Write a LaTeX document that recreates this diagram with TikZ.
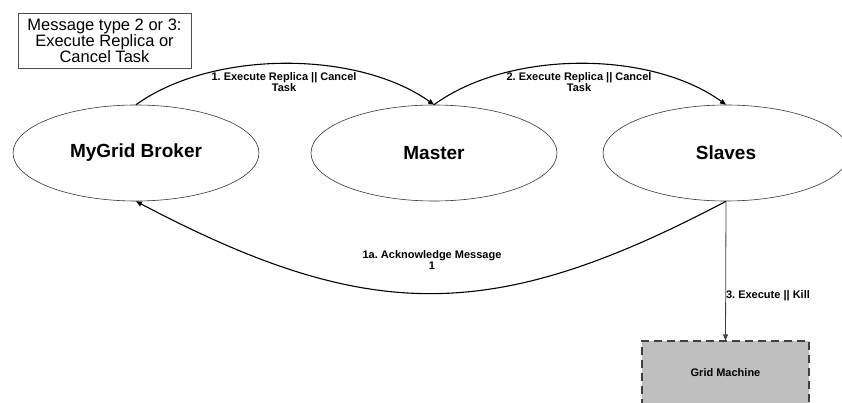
\documentclass[tikz,border=0pt]{standalone}
\usepackage{fontspec}
\setmainfont{Liberation Sans}
\usetikzlibrary{shapes}
\usetikzlibrary {arrows.meta}
\tikzset{oval/.style = {
shape=ellipse, draw=black!80, line width=0.6pt, minimum width=246pt, minimum height=96pt, inner sep=0pt,
font=\fontsize{19}{22}\selectfont\bfseries
}}
\tikzset{maschine/.style = {
rectangle, draw=black!75, fill=gray!50, line width=1.2pt, dash pattern=on 8pt off 5pt,
minimum width=167pt, minimum height=63pt, font=\fontsize{11}{13}\selectfont\bfseries
}}
\tikzset{pfeil/.style = {-{Triangle[length=6pt,width=5pt]}, line width=1.1pt}}
\tikzset{beschriftung/.style = {align=center, inner sep=0pt, text=black, font=\fontsize{11}{11}\selectfont\bfseries}}

\begin{document}
\frenchspacing
\begin{tikzpicture}[x=1pt,y=-1pt]
\useasboundingbox (0,0) rectangle (842,403);

\node[rectangle,draw=black!70,line width=0.8pt,minimum width=173pt,minimum height=55pt,align=center,
  font=\fontsize{16.5}{16}\selectfont] (typ) at (104.5,40.5) {Message type 2 or 3:\\Execute Replica or\\Cancel Task};

\node[oval] (broker) at (136,153) {MyGrid Broker};
\node[oval] (master) at (434,153) {Master};
\node[oval] (slaves) at (726,153) {Slaves};

\node[maschine] (grid) at (725.5,372.5) {Grid Machine};

\draw [pfeil] (broker.north) .. controls (212,50) and (357,50) .. (master.north);
\node[beschriftung] (l1) at (284,82.5) {1. Execute Replica || Cancel\\Task};

\draw [pfeil] (master.north) .. controls (509,50) and (650,50) .. (slaves.north);
\node[beschriftung] (l2) at (579,82.5) {2. Execute Replica || Cancel\\Task};

\draw [pfeil] (slaves.south) .. controls (493,324) and (369,324) .. (broker.south);
\node[beschriftung] (l1a) at (432,260.5) {1a. Acknowledge Message\\1};

\draw [-{Triangle[length=6pt,width=5pt]},black!75,line width=0.8pt] (slaves.south) -- node[pos=0.68,right=0pt,beschriftung] (l3) {3. Execute || Kill} (grid.north);

\end{tikzpicture}
\end{document}
